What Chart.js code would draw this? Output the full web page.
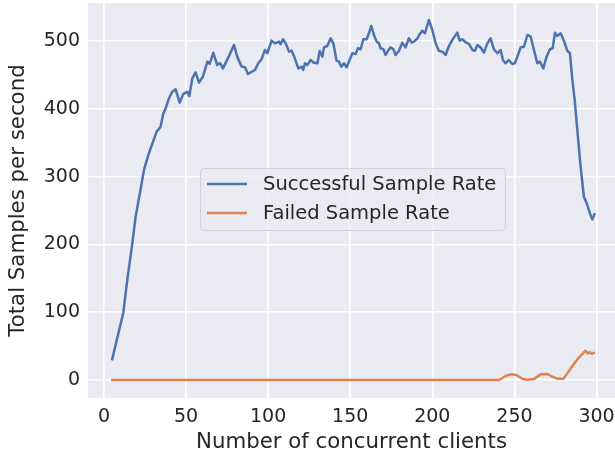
<!DOCTYPE html>
<html><head><meta charset="utf-8">
<script src="https://cdn.jsdelivr.net/npm/chart.js@4.4.1/dist/chart.umd.min.js"></script>
<style>html,body{margin:0;padding:0;background:#fff}#wrap{width:615px;height:460px;position:relative}</style>
</head><body><div id="wrap"><canvas id="c" width="615" height="460"></canvas></div>
<script>
const seriesNames = ["Successful Sample Rate", "Failed Sample Rate"];
const successX = [5,11.8,14.2,17.3,19.3,21.9,24.4,27,29.5,32.1,34.5,36.2,37.6,39.6,41.6,43.7,46.1,48.3,50.8,52,53.8,55.8,57.9,60.3,63,64.4,66.6,69,70.7,72.5,74.5,76.5,79.2,81.2,83.9,85.9,87.7,90,92,94,96,98,99.5,102.1,104.1,106.6,107.6,109,110.7,112.7,114.3,116.3,118.4,120.4,121.4,122.4,123.9,125.9,127.9,130,131.4,133,134,136,138.1,139.7,141.7,143.1,144.6,146.2,147.8,149.6,151.3,153.3,154.7,156.3,158,160,161.4,162.8,164.4,166.1,167.5,168.5,170.2,171.6,173,174.6,176.3,177.6,179.7,181.7,183.7,185.7,187.4,188.8,190.9,192.4,193.9,195.5,197.9,200,202,204,206.1,208.1,210.1,212.2,213.8,215.2,216.6,218.3,220.3,222.3,224.4,226,227.4,229.4,231.4,233.5,235.5,237.5,239.6,241.6,243,244.6,246.6,248.7,250.3,251.8,253.8,255.8,257.9,259.9,261.9,263.9,265.5,267.6,269.6,271.6,273.3,274.7,276.1,278.1,280.1,282.2,283.8,285.3,286.7,288.3,290.3,292.3,294,296,297.4,298.8];
const successY = [30.5,99.4,147.6,201.8,241,275.6,310,332,349,366.6,374,393.6,401,415.6,425.5,429,409.4,422,425.6,419,445,454,439,448,470,466.5,483,465,468,460,470,480,494.6,477,462.6,461.6,451.7,455,457.6,467.5,473.4,487,482.3,501,497,499.5,495.6,503,497,484.7,486,474.8,460,462.5,457.6,467.5,465,472.4,468.4,467.5,485.7,477.3,491,493,504.4,497,471.4,470,462.6,467.5,461.6,472.4,482.3,481.3,489.7,488.2,503,503,511.8,522.6,509.3,499.5,497,489.7,488.2,479.8,486,491,488.2,479.8,486,498,491,504.4,498,499.5,504.4,510.8,515.7,511.8,531.4,516.7,497,486,484.7,479.8,493,502,507.9,512.7,501,503,498.5,496,487.2,486,494.4,491,483.2,497,504.4,488.2,482.3,487.2,472.4,467.5,472.4,466.5,467.5,477.3,491,492,509.3,506.9,487.2,467.5,470,460,477.3,488.2,489.7,512.7,507.9,511.8,501,486,482.3,442.9,413.3,369,314.9,270.6,260.8,246,237.1,245];
const failedX = [5,60,120,180,240.7,244.6,247.7,251.3,254.8,257.9,261.9,266,270,273.1,276.1,279.8,282.2,285.3,288.3,291.3,293.3,294.7,295.9,297,298.4];
const failedY = [0,0,0,0,0,5.9,8.4,7.4,2,0.5,1.5,8.4,8.9,4.9,2,2,9.8,20.7,30.5,38.4,43.3,39.4,41.3,38.4,40.3];
const xTicks = [0, 50, 100, 150, 200, 250, 300];
const yTicks = [0, 100, 200, 300, 400, 500];
const xTitle = "Number of concurrent clients";
const yTitle = "Total Samples per second";

const FONT = '"DejaVu Sans", "Liberation Sans", sans-serif';
const TXT = '#262626';

const toPts = (xs, ys) => xs.map((x, i) => ({x: x, y: ys[i]}));

const bgPlugin = {
  id: 'plotBg',
  beforeDraw(chart) {
    const a = chart.chartArea, ctx = chart.ctx;
    ctx.save();
    ctx.fillStyle = '#EAEAF2';
    ctx.fillRect(a.left, a.top, a.right - a.left, a.bottom - a.top);
    ctx.restore();
  }
};

const legendPlugin = {
  id: 'boxLegend',
  afterDatasetsDraw(chart) {
    const ctx = chart.ctx;
    const x0 = 200.5, y0 = 168.5, w = 305, h = 62, r = 4;
    ctx.save();
    ctx.beginPath();
    ctx.moveTo(x0 + r, y0);
    ctx.lineTo(x0 + w - r, y0);
    ctx.arcTo(x0 + w, y0, x0 + w, y0 + r, r);
    ctx.lineTo(x0 + w, y0 + h - r);
    ctx.arcTo(x0 + w, y0 + h, x0 + w - r, y0 + h, r);
    ctx.lineTo(x0 + r, y0 + h);
    ctx.arcTo(x0, y0 + h, x0, y0 + h - r, r);
    ctx.lineTo(x0, y0 + r);
    ctx.arcTo(x0, y0, x0 + r, y0, r);
    ctx.closePath();
    ctx.fillStyle = 'rgba(234,234,242,0.8)';
    ctx.fill();
    ctx.strokeStyle = 'rgba(204,204,204,0.8)';
    ctx.lineWidth = 1;
    ctx.stroke();
    chart.data.datasets.forEach((ds, i) => {
      const cy = 184 + i * 29;
      ctx.beginPath();
      ctx.moveTo(207, cy);
      ctx.lineTo(247, cy);
      ctx.strokeStyle = ds.borderColor;
      ctx.lineWidth = 2.5;
      ctx.stroke();
      ctx.fillStyle = TXT;
      ctx.font = '19.5px ' + FONT;
      ctx.textBaseline = 'middle';
      ctx.textAlign = 'left';
      ctx.fillText(ds.label, 263, cy + 1);
    });
    ctx.restore();
  }
};

new Chart(document.getElementById('c'), {
  type: 'line',
  data: {
    datasets: [
      {label: seriesNames[0], data: toPts(successX, successY), borderColor: '#4C72B0', borderWidth: 2.5, pointRadius: 0, tension: 0, fill: false, borderJoinStyle: 'round', borderCapStyle: 'round'},
      {label: seriesNames[1], data: toPts(failedX, failedY), borderColor: '#DD8452', borderWidth: 2.5, pointRadius: 0, tension: 0, fill: false, borderJoinStyle: 'round', borderCapStyle: 'round'}
    ]
  },
  options: {
    responsive: false,
    animation: false,
    devicePixelRatio: 1,
    layout: {padding: {top: 3, right: 0, bottom: 0, left: 0}},
    plugins: {legend: {display: false}, tooltip: {enabled: false}},
    scales: {
      x: {
        type: 'linear', min: -9.7, max: 311.25,
        afterBuildTicks: s => { s.ticks = xTicks.map(v => ({value: v})); },
        afterFit: s => { s.height = 62; s.paddingLeft = 0; s.paddingRight = 0; },
        grid: {color: '#FFFFFF', lineWidth: 1.6, drawTicks: false},
        border: {display: false},
        ticks: {color: TXT, font: {family: FONT, size: 19}, padding: 8, maxRotation: 0, autoSkip: false},
        title: {display: true, text: xTitle, color: TXT, font: {family: FONT, size: 21.3}, padding: {top: 0, bottom: 5}}
      },
      y: {
        type: 'linear', min: -26.5, max: 556.5,
        afterBuildTicks: s => { s.ticks = yTicks.map(v => ({value: v})); },
        afterFit: s => { s.width = 88; s.paddingTop = 0; s.paddingBottom = 0; },
        grid: {color: '#FFFFFF', lineWidth: 1.6, drawTicks: false},
        border: {display: false},
        ticks: {color: TXT, font: {family: FONT, size: 19}, padding: 8, autoSkip: false},
        title: {display: true, text: yTitle, color: TXT, font: {family: FONT, size: 21.3}, padding: {top: 6, bottom: 0}}
      }
    }
  },
  plugins: [bgPlugin, legendPlugin]
});
</script>
</body></html>
